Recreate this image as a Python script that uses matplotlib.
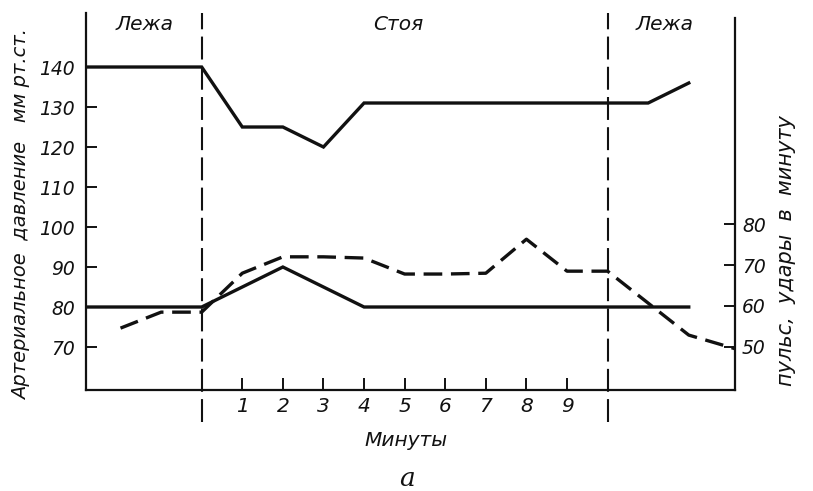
import matplotlib
matplotlib.use("Agg")
import matplotlib.pyplot as plt

plt.rcParams['font.family'] = ['DejaVu Sans']

# Minutes relative to standing up (negative = lying before, >10 = lying after)
sys_minutes = [-3, 0, 1, 2, 3, 4, 10, 11, 12]
systolic = [140, 140, 125, 125, 120, 131, 131, 131, 136]

dia_minutes = [-3, 0, 2, 4, 10, 12]
diastolic = [80, 80, 90, 80, 80, 80]

pulse_minutes = [-2, -1, 0, 1, 2, 3, 4, 5, 6, 7, 8, 9, 10, 12, 13.2]
pulse = [54.6, 58.5, 58.5, 68, 72, 72, 71.7, 67.8, 67.8, 68, 76.3, 68.5, 68.5, 52.9, 49.4]

phase_bounds = [0, 10]
phase_labels = ["Лежа", "Стоя", "Лежа"]
phase_label_x = [-1.4, 4.85, 11.4]

bp_ticks = [70, 80, 90, 100, 110, 120, 130, 140]
pulse_ticks = [50, 60, 70, 80]
minute_ticks = [1, 2, 3, 4, 5, 6, 7, 8, 9]

ink = "#111111"
tick_font = dict(fontstyle="oblique", fontsize=13.5, color=ink)

fig = plt.figure(figsize=(8.13, 4.91), dpi=100)
ax = fig.add_axes([0.1058, 0.2057, 0.7983, 0.7678])
ax2 = ax.twinx()

ax.set_xlim(-2.85, 13.14)
ax.set_ylim(59.25, 153.5)
ax2.set_ylim(39.5, 131.5)

# Blood pressure curves (left scale) and pulse (right scale)
ax.plot(sys_minutes, systolic, color=ink, lw=2.4, solid_joinstyle="miter")
ax.plot(dia_minutes, diastolic, color=ink, lw=2.4, solid_joinstyle="miter")
ax2.plot(pulse_minutes, pulse, color=ink, lw=2.4, linestyle=(0, (5.6, 2.6)))

# Phase boundaries, running below the time axis
for b in phase_bounds:
    ax.axvline(b, ymin=-0.085, ymax=1.0, color=ink, lw=1.5,
               linestyle=(0, (11, 3.5)), clip_on=False)

for lbl, xpos in zip(phase_labels, phase_label_x):
    ax.text(xpos, 150.6, lbl, ha="center", va="center", fontstyle="oblique",
            fontsize=14.5, color=ink)

# Axes styling
for side in ("top", "right"):
    ax.spines[side].set_visible(False)
for side in ("top", "left", "bottom"):
    ax2.spines[side].set_visible(False)
for sp in (ax.spines["left"], ax.spines["bottom"], ax2.spines["right"]):
    sp.set_linewidth(1.6)
    sp.set_color(ink)
ax2.spines["right"].set_bounds(39.5, 130.3)

ax.set_yticks(bp_ticks)
ax.set_yticklabels([str(v) for v in bp_ticks], **tick_font)
ax.tick_params(axis="y", direction="in", length=8, width=1.4, pad=8, color=ink)

ax.set_xticks(minute_ticks)
ax.set_xticklabels([str(v) for v in minute_ticks], fontstyle="oblique",
                   fontsize=14.5, color=ink)
ax.tick_params(axis="x", direction="in", length=9, width=1.4, pad=5, color=ink)

ax2.set_yticks(pulse_ticks)
ax2.set_yticklabels([str(v) for v in pulse_ticks], **tick_font)
ax2.tick_params(axis="y", direction="in", length=8, width=1.4, pad=5, color=ink)

fig.text(22 / 813, 1 - 215 / 491, "Артериальное  давление   мм рт.ст.",
         rotation=90, ha="center", va="center", fontstyle="oblique",
         fontsize=14, color=ink)
fig.text(786 / 813, 1 - 251 / 491, "пульс,  удары  в  минуту",
         rotation=90, ha="center", va="center", fontstyle="oblique",
         fontsize=15, color=ink)
fig.text(406 / 813, 1 - 441 / 491, "Минуты", ha="center", va="center",
         fontstyle="oblique", fontsize=14.5, color=ink)
fig.text(407 / 813, 1 - 478 / 491, "a", ha="center", va="center",
         family="DejaVu Serif", fontstyle="italic", fontsize=19, color=ink)

fig.savefig("out.png", dpi=100, facecolor="white")
